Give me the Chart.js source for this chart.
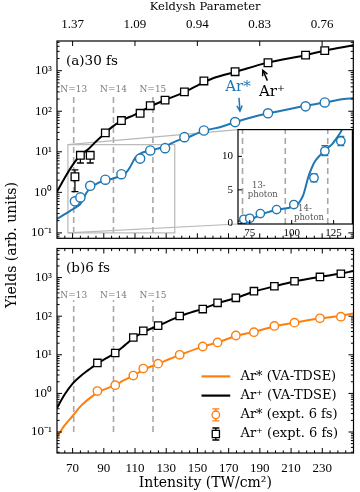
<!DOCTYPE html>
<html><head><meta charset="utf-8">
<script src="https://cdn.jsdelivr.net/npm/chart.js@4.4.1/dist/chart.umd.min.js"></script>
<style>
html,body{margin:0;padding:0;background:#fff;}
body{width:360px;height:492px;position:relative;overflow:hidden;}
canvas{position:absolute;}
#ytitle{position:absolute;left:11px;top:245px;transform:translate(-50%,-50%) rotate(-90deg);font:14px 'DejaVu Serif',serif;white-space:nowrap;color:#000;}
</style></head><body>
<canvas id="cTop" width="360" height="245" style="left:0;top:0"></canvas>
<canvas id="cBot" width="360" height="250" style="left:0;top:242px"></canvas>
<canvas id="cIn" width="140" height="118" style="left:218px;top:124px"></canvas>
<div id="ytitle">Yields (arb. units)</div>
<script>
// ---------- data ----------
const intensityTicks = [70, 90, 110, 130, 150, 170, 190, 210, 230];
const keldyshPos = [70, 110, 150, 190, 230];
const keldyshLabels = ['1.37', '1.09', '0.94', '0.83', '0.76'];
const channelPos = [70.7, 96.2, 121.5];
const channelLabels = ['N=13', 'N=14', 'N=15'];

// (a) 30 fs experiment
const I30_expt      = [71.5, 75.0, 81.3, 91.0, 101.3, 113.3, 119.8, 129.3, 141.7, 154.2, 174.2, 195.3, 219.4, 231.7];
const ArPlus30_expt = [2.42, 8.2, 8.2, 29.3, 58.9, 89, 137, 188, 301, 560, 946, 1570, 2420, 3130];
const ArPlus30_lo   = [1.04, 5.3, 5.3, null, null, null, null, null, null, null, null, null, null, null];
const ArPlus30_hi   = [3.6, 10.0, 10.0, null, null, null, null, null, null, null, null, null, null, null];
const ArStar30_expt = [0.6, 0.75, 1.45, 2.05, 2.8, 6.8, 10.8, 12.3, 23, 33.5, 54, 89, 132, 165];
const ArStar30_lo   = [null, null, null, null, null, 6.2, 10.1, 11.6, null, null, null, null, null, null];
const ArStar30_hi   = [null, null, null, null, null, 7.4, 11.6, 13.0, null, null, null, null, null, null];
// (a) 30 fs VA-TDSE
const I30_plusLine  = [60, 65, 70, 75, 80, 85, 90, 95, 100, 110, 120, 130, 140, 150, 160, 175, 195, 220, 232, 250];
const ArPlus30_tdse = [1.04, 2.3, 4.7, 8.2, 11.5, 18, 27, 40, 55, 83, 132, 195, 275, 430, 650, 950, 1580, 2450, 3150, 4250];
const I30_starLine  = [60, 65, 70, 73, 75, 78, 81, 85, 90, 96, 100, 103, 105, 107, 110, 112, 114, 117, 120, 124, 127, 130, 135, 140, 145, 150, 155, 165, 175, 185, 195, 210, 220, 232, 244, 250];
const ArStar30_tdse = [0.22, 0.29, 0.38, 0.45, 0.52, 0.85, 1.25, 1.6, 1.95, 2.2, 2.45, 2.7, 3.3, 4.3, 7.0, 8.3, 9.3, 10.2, 11.0, 11.8, 12.8, 14.0, 17.4, 20.5, 23.5, 28.5, 33.5, 41, 55, 71, 88, 115, 138, 166, 200, 210];

// (b) 6 fs experiment
const I6_expt      = [85.9, 97.3, 108.9, 115.3, 124.8, 138.6, 153.4, 162.9, 174.6, 186.2, 199.3, 212.2, 228.5, 241.9];
const ArPlus6_expt = [6.15, 11.1, 28, 41.7, 57, 101, 153, 222, 299, 445, 597, 803, 1040, 1260];
const ArStar6_expt = [1.15, 1.63, 2.9, 4.4, 5.9, 10, 16.4, 20.9, 31.6, 38.5, 56, 68, 88, 97];
// (b) 6 fs VA-TDSE
const I6_line      = [60, 65, 70, 75, 80, 86, 92, 97, 103, 109, 115, 125, 139, 153, 163, 175, 186, 199, 212, 228, 242, 250];
const ArPlus6_tdse = [0.42, 0.95, 1.8, 2.8, 4.0, 6.0, 8.3, 11, 17, 27, 38, 57, 100, 155, 215, 300, 430, 590, 790, 1040, 1270, 1480];
const ArStar6_tdse = [0.075, 0.15, 0.26, 0.46, 0.7, 1.05, 1.35, 1.63, 2.2, 2.9, 4.0, 5.9, 10, 16, 21, 31, 39, 54, 68, 87, 103, 117];

// inset
const insetXTicks = [75, 100, 125];
const insetYTicks = [0, 5, 10];
const photonLabels = [['13-', 'photon'], ['14-', 'photon']];
const photonLabelAt = [[82.8, 4.95], [110.3, 1.55]];

// ---------- styling ----------
const BLUE = '#1f77b4', ORANGE = '#ff7f0e', GRAY = '#a8a8a8';
const FT = "'DejaVu Serif', serif";
const FN = "'Liberation Serif', serif";
const INSET_LEFT = 218, INSET_TOP = 124;

const pts = (xs, ys) => xs.map((x, i) => ({x, y: ys[i]}));
const SUP = {'0':'⁰','1':'¹','2':'²','3':'³','4':'⁴','5':'⁵','6':'⁶','7':'⁷','8':'⁸','9':'⁹','-':'⁻'};
const pow10Label = v => '10' + String(Math.round(Math.log10(v))).split('').map(c => SUP[c]).join('');
const noPad = s => { s.paddingTop = 0; s.paddingBottom = 0; s.paddingLeft = 0; s.paddingRight = 0; };

function logTicks(min, max) {
  const out = [];
  for (let k = -3; k <= 4; k++) for (let m = 1; m <= 9; m++) {
    const v = m * Math.pow(10, k);
    if (v > min * 1.0001 && v < max * 0.9999) out.push([v, m === 1 ? 5 : 2.6]);
  }
  return out;
}
function xTickList() {
  const out = [];
  for (let v = 65; v < 250; v += 5) out.push([v, intensityTicks.includes(v) ? 5 : 2.6]);
  return out;
}

function framePlugin(cfg) {
  return {
    id: 'frameTicks',
    afterDraw(chart) {
      const {ctx, chartArea: a} = chart;
      const xs = chart.scales.x, ys = chart.scales.y;
      ctx.save();
      ctx.strokeStyle = '#000'; ctx.lineWidth = 1;
      const seg = (x1, y1, x2, y2) => { ctx.beginPath(); ctx.moveTo(x1, y1); ctx.lineTo(x2, y2); ctx.stroke(); };
      (cfg.bottom || []).forEach(([v, l]) => { const x = xs.getPixelForValue(v); seg(x, a.bottom, x, a.bottom - l); });
      (cfg.top || []).forEach(([v, l]) => { const x = xs.getPixelForValue(v); seg(x, a.top, x, a.top + l); });
      (cfg.left || []).forEach(([v, l]) => { const y = ys.getPixelForValue(v); seg(a.left, y, a.left + l, y); if (cfg.right) seg(a.right, y, a.right - l, y); });
      ctx.lineWidth = 1.2;
      ctx.strokeRect(a.left, a.top, a.right - a.left, a.bottom - a.top);
      ctx.restore();
    }
  };
}

const errorBars = {
  id: 'errorBars',
  beforeDatasetDraw(chart, args) {
    const ds = chart.data.datasets[args.index];
    if (!ds.errLo) return;
    const ys = chart.scales[args.meta.yAxisID];
    const {ctx, chartArea: a} = chart;
    ctx.save();
    ctx.beginPath(); ctx.rect(a.left, a.top, a.right - a.left, a.bottom - a.top); ctx.clip();
    ctx.strokeStyle = ds.pointBorderColor; ctx.lineWidth = 1.3;
    args.meta.data.forEach((pt, i) => {
      const lo = ds.errLo[i], hi = ds.errHi[i];
      if (lo == null) return;
      const y1 = ys.getPixelForValue(lo), y2 = ys.getPixelForValue(hi);
      ctx.beginPath();
      ctx.moveTo(pt.x, y1); ctx.lineTo(pt.x, y2);
      ctx.moveTo(pt.x - 3.5, y1); ctx.lineTo(pt.x + 3.5, y1);
      ctx.moveTo(pt.x - 3.5, y2); ctx.lineTo(pt.x + 3.5, y2);
      ctx.stroke();
    });
    ctx.restore();
  }
};

function channelDecor(panelText) {
  return {
    id: 'channelDecor',
    beforeDatasetsDraw(chart) {
      const {ctx, scales: {x, y}} = chart;
      ctx.save();
      ctx.strokeStyle = GRAY; ctx.lineWidth = 1.6; ctx.setLineDash([6, 4]);
      channelPos.forEach(v => {
        const px = x.getPixelForValue(v);
        ctx.beginPath(); ctx.moveTo(px, y.getPixelForValue(0.1)); ctx.lineTo(px, y.getPixelForValue(260)); ctx.stroke();
      });
      ctx.restore();
    },
    afterDatasetsDraw(chart) {
      const {ctx, chartArea: a, scales: {x, y}} = chart;
      ctx.save();
      ctx.fillStyle = '#7a7a7a'; ctx.font = '9px ' + FT; ctx.textAlign = 'center'; ctx.textBaseline = 'middle';
      channelPos.forEach((v, i) => ctx.fillText(channelLabels[i], x.getPixelForValue(v), y.getPixelForValue(350)));
      ctx.fillStyle = '#000'; ctx.font = '13.5px ' + FT; ctx.textAlign = 'left';
      ctx.fillText(panelText, a.left + 9, a.top + 20);
      ctx.restore();
    }
  };
}

function arrow(ctx, x1, y1, x2, y2, color) {
  ctx.save();
  ctx.strokeStyle = color; ctx.lineWidth = 1.5;
  ctx.beginPath(); ctx.moveTo(x1, y1); ctx.lineTo(x2, y2); ctx.stroke();
  const ang = Math.atan2(y2 - y1, x2 - x1), L = 6, w = 0.45;
  ctx.beginPath();
  ctx.moveTo(x2 - L * Math.cos(ang - w), y2 - L * Math.sin(ang - w));
  ctx.lineTo(x2, y2);
  ctx.lineTo(x2 - L * Math.cos(ang + w), y2 - L * Math.sin(ang + w));
  ctx.stroke();
  ctx.restore();
}

// ---------- inset ----------
const inIdx = I30_expt.map((v, i) => i).filter(i => I30_expt[i] <= 136);
const insetChart = new Chart(document.getElementById('cIn'), {
  type: 'line',
  data: { datasets: [
    { label: 'Ar* (expt. 30 fs)', data: inIdx.map(i => ({x: I30_expt[i], y: ArStar30_expt[i]})),
      errLo: inIdx.map(i => ArStar30_lo[i]), errHi: inIdx.map(i => ArStar30_hi[i]),
      showLine: false, pointStyle: 'circle', pointRadius: 4.2, pointBackgroundColor: '#fff', pointBorderColor: BLUE, pointBorderWidth: 1.4 },
    { label: 'Ar* (VA-TDSE)', data: pts(I30_starLine, ArStar30_tdse), borderColor: BLUE, borderWidth: 2, pointRadius: 0, cubicInterpolationMode: 'monotone' }
  ]},
  options: {
    responsive: false, animation: false, events: [],
    layout: { padding: { top: 4, right: 3, left: 0, bottom: 0 } },
    plugins: { legend: { display: false }, tooltip: { enabled: false } },
    scales: {
      x: { type: 'linear', min: 68, max: 136.2, grid: { display: false, drawTicks: false }, border: { display: false },
           afterBuildTicks(s) { s.ticks = insetXTicks.map(v => ({value: v})); },
           ticks: { font: { family: FN, size: 11 }, color: '#000', padding: 3, maxRotation: 0, autoSkip: false },
           afterFit(s) { s.height = 18; noPad(s); } },
      y: { type: 'linear', min: -0.1, max: 14, grid: { display: false, drawTicks: false }, border: { display: false },
           afterBuildTicks(s) { s.ticks = insetYTicks.map(v => ({value: v})); },
           ticks: { font: { family: FN, size: 11 }, color: '#000', padding: 5, autoSkip: false },
           afterFit(s) { s.width = 20; noPad(s); } }
    }
  },
  plugins: [
    { id: 'bg', beforeDraw(chart) { const {ctx, chartArea: a} = chart; ctx.save(); ctx.fillStyle = '#fff'; ctx.fillRect(a.left, a.top, a.right - a.left, a.bottom - a.top); ctx.restore(); } },
    { id: 'insetDecor', beforeDatasetsDraw(chart) {
        const {ctx, chartArea: a, scales: {x, y}} = chart;
        ctx.save();
        ctx.strokeStyle = GRAY; ctx.lineWidth = 1.6; ctx.setLineDash([6, 4]);
        channelPos.forEach(v => { const px = x.getPixelForValue(v); ctx.beginPath(); ctx.moveTo(px, a.bottom); ctx.lineTo(px, a.top); ctx.stroke(); });
        ctx.setLineDash([]);
        ctx.fillStyle = '#555'; ctx.font = '8.5px ' + FT; ctx.textAlign = 'center'; ctx.textBaseline = 'middle';
        photonLabels.forEach((lines, i) => {
          const cx = x.getPixelForValue(photonLabelAt[i][0]), cy = y.getPixelForValue(photonLabelAt[i][1]);
          ctx.fillText(lines[0], cx - 4, cy - 4.5); ctx.fillText(lines[1], cx, cy + 4.5);
        });
        ctx.restore();
      } },
    errorBars,
    framePlugin({ bottom: insetXTicks.map(v => [v, 4]), left: insetYTicks.map(v => [v, 4]) })
  ]
});

// ---------- top panel ----------
const TOP_MIN = 0.0736, TOP_MAX = 5400;
const zoomBox = [67, 135.5, 0.1, 15];
const topChart = new Chart(document.getElementById('cTop'), {
  type: 'line',
  data: { datasets: [
    { label: 'Ar* (expt. 30 fs)', data: pts(I30_expt, ArStar30_expt), errLo: ArStar30_lo, errHi: ArStar30_hi,
      showLine: false, pointStyle: 'circle', pointRadius: 4.6, pointBackgroundColor: '#fff', pointBorderColor: BLUE, pointBorderWidth: 1.4 },
    { label: 'Ar⁺ (expt. 30 fs)', data: pts(I30_expt, ArPlus30_expt), errLo: ArPlus30_lo, errHi: ArPlus30_hi,
      showLine: false, pointStyle: 'rect', pointRadius: 5.4, pointBackgroundColor: '#fff', pointBorderColor: '#000', pointBorderWidth: 1.3 },
    { label: 'Ar* (VA-TDSE)', data: pts(I30_starLine, ArStar30_tdse), borderColor: BLUE, borderWidth: 2, pointRadius: 0, cubicInterpolationMode: 'monotone' },
    { label: 'Ar⁺ (VA-TDSE)', data: pts(I30_plusLine, ArPlus30_tdse), borderColor: '#000', borderWidth: 2, pointRadius: 0, cubicInterpolationMode: 'monotone' }
  ]},
  options: {
    responsive: false, animation: false, events: [],
    layout: { padding: { top: 0, right: 3, left: 0, bottom: 0 } },
    plugins: { legend: { display: false }, tooltip: { enabled: false } },
    scales: {
      x: { type: 'linear', min: 60, max: 250, grid: { display: false, drawTicks: false }, border: { display: false },
           ticks: { display: false }, afterFit(s) { s.height = 2; noPad(s); } },
      xk: { type: 'linear', position: 'top', min: 60, max: 250, grid: { display: false, drawTicks: false }, border: { display: false },
            afterBuildTicks(s) { s.ticks = keldyshPos.map(v => ({value: v})); },
            ticks: { callback: v => keldyshLabels[keldyshPos.indexOf(v)], font: { family: FN, size: 13 }, color: '#000', padding: 9, maxRotation: 0, autoSkip: false },
            title: { display: true, text: 'Keldysh Parameter', font: { family: FT, size: 11.5 }, color: '#000', padding: { top: 0, bottom: 0 } },
            afterFit(s) { s.height = 41; noPad(s); } },
      y: { type: 'logarithmic', min: TOP_MIN, max: TOP_MAX, grid: { display: false, drawTicks: false }, border: { display: false },
           afterBuildTicks(s) { s.ticks = [0.1, 1, 10, 100, 1000].map(v => ({value: v})); },
           ticks: { callback: v => pow10Label(v), font: { family: FN, size: 13 }, color: '#000', padding: 5, autoSkip: false },
           afterFit(s) { s.width = 57; noPad(s); } }
    }
  },
  plugins: [
    channelDecor('(a)30 fs'),
    { id: 'zoomDecor',
      beforeDatasetsDraw(chart) {
        const {ctx, scales: {x, y}} = chart;
        const rx1 = x.getPixelForValue(zoomBox[0]), rx2 = x.getPixelForValue(zoomBox[1]);
        const ryb = y.getPixelForValue(zoomBox[2]), ryt = y.getPixelForValue(zoomBox[3]);
        const ia = insetChart.chartArea;
        ctx.save(); ctx.strokeStyle = '#b8b8b8'; ctx.lineWidth = 1.2;
        ctx.strokeRect(rx1, ryt, rx2 - rx1, ryb - ryt);
        ctx.beginPath();
        ctx.moveTo(rx1, ryt); ctx.lineTo(INSET_LEFT + ia.left, INSET_TOP + ia.top);
        ctx.moveTo(rx1, ryb); ctx.lineTo(INSET_LEFT + ia.left, INSET_TOP + ia.bottom);
        ctx.stroke(); ctx.restore();
      },
      afterDatasetsDraw(chart) {
        const {ctx, scales: {x, y}} = chart;
        const P = (a, b) => [x.getPixelForValue(a), y.getPixelForValue(b)];
        let s = P(176.7, 215), e = P(177.3, 101);
        arrow(ctx, s[0], s[1], e[0], e[1], BLUE);
        s = P(194.9, 569); e = P(192.0, 1028);
        arrow(ctx, s[0], s[1], e[0], e[1], '#000');
        ctx.save(); ctx.font = '15px ' + FT; ctx.textAlign = 'center'; ctx.textBaseline = 'middle';
        ctx.fillStyle = BLUE; let t = P(176, 384); ctx.fillText('Ar*', t[0], t[1]);
        ctx.fillStyle = '#000'; t = P(197.8, 290); ctx.fillText('Ar⁺', t[0], t[1]);
        ctx.restore();
      } },
    errorBars,
    framePlugin({ bottom: xTickList(), top: keldyshPos.map(v => [v, 5]), left: logTicks(TOP_MIN, TOP_MAX), right: true })
  ]
});

// ---------- bottom panel ----------
const BOT_MIN = 0.0286, BOT_MAX = 5666;
const legendOrder = [2, 3, 0, 1];
const botChart = new Chart(document.getElementById('cBot'), {
  type: 'line',
  data: { datasets: [
    { label: 'Ar* (expt. 6 fs)', data: pts(I6_expt, ArStar6_expt), showLine: false, pointStyle: 'circle', pointRadius: 4.2, pointBackgroundColor: '#fff', pointBorderColor: ORANGE, pointBorderWidth: 1.4 },
    { label: 'Ar⁺ (expt. 6 fs)', data: pts(I6_expt, ArPlus6_expt), showLine: false, pointStyle: 'rect', pointRadius: 5.2, pointBackgroundColor: '#fff', pointBorderColor: '#000', pointBorderWidth: 1.3 },
    { label: 'Ar* (VA-TDSE)', data: pts(I6_line, ArStar6_tdse), borderColor: ORANGE, borderWidth: 2, pointRadius: 0, cubicInterpolationMode: 'monotone' },
    { label: 'Ar⁺ (VA-TDSE)', data: pts(I6_line, ArPlus6_tdse), borderColor: '#000', borderWidth: 2, pointRadius: 0, cubicInterpolationMode: 'monotone' }
  ]},
  options: {
    responsive: false, animation: false, events: [],
    layout: { padding: { top: 5, right: 3, left: 0, bottom: 0 } },
    plugins: { legend: { display: false }, tooltip: { enabled: false } },
    scales: {
      x: { type: 'linear', min: 60, max: 250, grid: { display: false, drawTicks: false }, border: { display: false },
           afterBuildTicks(s) { s.ticks = intensityTicks.map(v => ({value: v})); },
           ticks: { font: { family: FN, size: 13 }, color: '#000', padding: 8, maxRotation: 0, autoSkip: false },
           title: { display: true, text: 'Intensity (TW/cm²)', font: { family: FT, size: 14 }, color: '#000', padding: { top: 0, bottom: 0 } },
           afterFit(s) { s.height = 39; noPad(s); } },
      y: { type: 'logarithmic', min: BOT_MIN, max: BOT_MAX, grid: { display: false, drawTicks: false }, border: { display: false },
           afterBuildTicks(s) { s.ticks = [0.1, 1, 10, 100, 1000].map(v => ({value: v})); },
           ticks: { callback: v => pow10Label(v), font: { family: FN, size: 13 }, color: '#000', padding: 5, autoSkip: false },
           afterFit(s) { s.width = 57; noPad(s); } }
    }
  },
  plugins: [
    channelDecor('(b)6 fs'),
    { id: 'legendBox', afterDraw(chart) {
        const {ctx, chartArea: a} = chart;
        ctx.save(); ctx.font = '13px ' + FT; ctx.textBaseline = 'middle'; ctx.textAlign = 'left';
        legendOrder.forEach((di, r) => {
          const ds = chart.data.datasets[di];
          const yy = a.bottom - 19 - (legendOrder.length - 1 - r) * 19.2;
          const x1 = a.right - 152, x2 = a.right - 123.3, xm = (x1 + x2) / 2;
          if (ds.showLine === false) {
            const c = ds.pointBorderColor;
            ctx.strokeStyle = c; ctx.lineWidth = 1.3;
            ctx.beginPath(); ctx.moveTo(xm, yy - 6); ctx.lineTo(xm, yy + 6);
            ctx.moveTo(xm - 3.5, yy - 6); ctx.lineTo(xm + 3.5, yy - 6);
            ctx.moveTo(xm - 3.5, yy + 6); ctx.lineTo(xm + 3.5, yy + 6); ctx.stroke();
            ctx.fillStyle = '#fff'; ctx.beginPath();
            if (ds.pointStyle === 'circle') { ctx.arc(xm, yy, 3.8, 0, Math.PI * 2); }
            else { ctx.rect(xm - 3.6, yy - 3.6, 7.2, 7.2); }
            ctx.fill(); ctx.stroke();
          } else {
            ctx.strokeStyle = ds.borderColor; ctx.lineWidth = 2.2;
            ctx.beginPath(); ctx.moveTo(x1, yy); ctx.lineTo(x2, yy); ctx.stroke();
          }
          ctx.fillStyle = '#000';
          ctx.fillText(ds.label, a.right - 113, yy);
        });
        ctx.restore();
      } },
    framePlugin({ bottom: xTickList(), top: xTickList(), left: logTicks(BOT_MIN, BOT_MAX), right: true })
  ]
});
</script>
</body></html>
